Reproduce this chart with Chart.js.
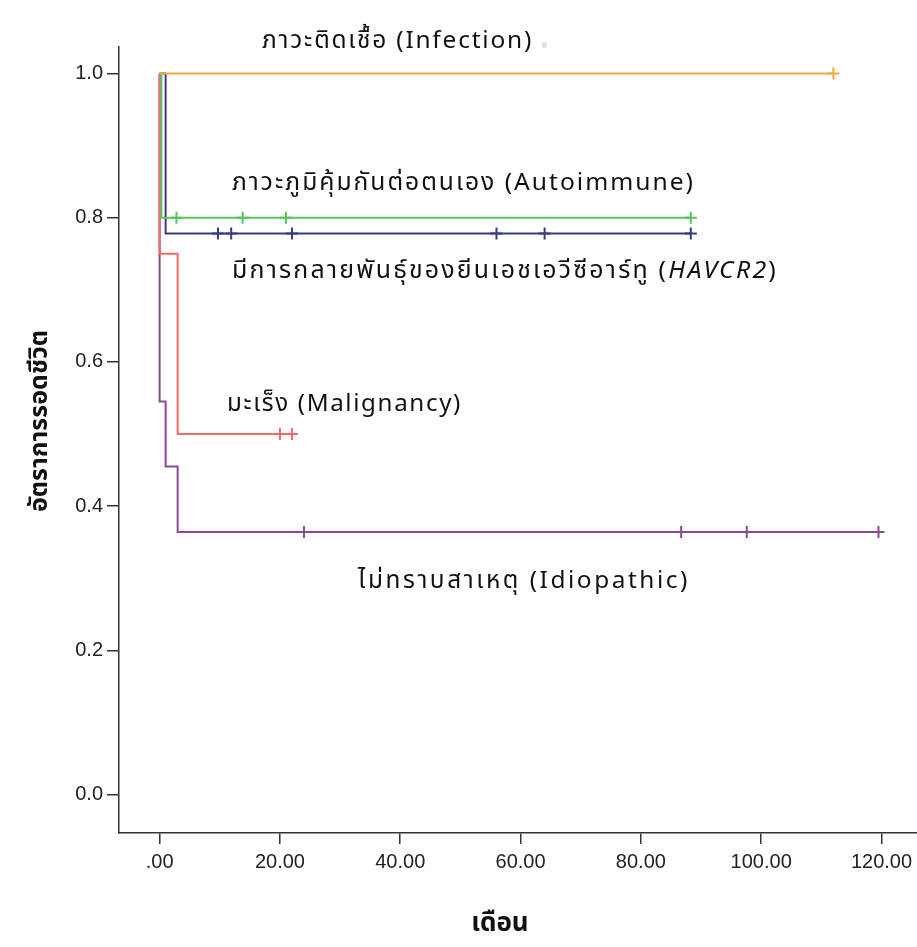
<!DOCTYPE html>
<html>
<head>
<meta charset="utf-8">
<script src="https://cdn.jsdelivr.net/npm/chart.js@4.4.1/dist/chart.umd.min.js"></script>
<style>
  body { margin: 0; background: #fff; }
  #wrap { width: 917px; height: 947px; }
</style>
</head>
<body>
<div id="wrap"><canvas id="km" width="917" height="947"></canvas></div>
<script>
"use strict";

// months / survival values
const infTimes = [0, 112];
const infSurv = [1, 1];
const infCensor = [112];

const autoTimes = [0, 0.3, 88.3];
const autoSurv = [1, 0.8, 0.8];
const autoCensor = [2.8, 13.8, 21, 88.3];

const havTimes = [0, 1, 88.3];
const havSurv = [1, 0.778, 0.778];
const havCensor = [9.7, 11.9, 22, 56, 64, 88.3];

const malTimes = [0, 0, 3, 22];
const malSurv = [1, 0.75, 0.5, 0.5];
const malCensor = [20, 22];

const idioTimes = [0, 0, 1, 3, 120];
const idioSurv = [1, 0.545, 0.455, 0.364, 0.364];
const idioCensor = [24, 86.7, 97.6, 119.5];

const xTicks = [0, 20, 40, 60, 80, 100, 120];
const yTicks = [0, 0.2, 0.4, 0.6, 0.8, 1.0];

const labelFont = '"Noto Sans", "Noto Sans Thai", sans-serif';
const titleFont = '"Noto Sans Thai", "Noto Sans", sans-serif';

function survAt(times, surv, t){
    let s = surv[0];
    for (let i = 0; i < times.length; i++){
        if (times[i] <= t) s = surv[i];
    }
    return s;
}

function stepSet(times, surv, color){
    return {
        type: 'line',
        data: times.map((t, i) => ({x: t, y: surv[i]})),
        borderColor: color,
        borderWidth: 2,
        stepped: true,
        pointRadius: 0,
        fill: false
    };
}

function censorSet(censor, times, surv, color){
    return {
        type: 'scatter',
        data: censor.map(t => ({x: t, y: survAt(times, surv, t)})),
        borderColor: color,
        backgroundColor: color,
        pointStyle: 'cross',
        pointRadius: 6,
        borderWidth: 2,
        showLine: false
    };
}

const cOrange = 'rgb(246,168,62)';
const cGreen = 'rgb(84,198,92)';
const cNavy = 'rgb(55,58,135)';
const cRed = 'rgb(242,105,105)';
const cPurple = 'rgb(140,72,150)';

// text pieces: [text, italic]
const labels = [
    {parts: [['ภาวะติดเชื้อ (Infection)', false]], x: 262, y: 48, w: 271},
    {parts: [['ภาวะภูมิคุ้มกันต่อตนเอง (Autoimmune)', false]], x: 232, y: 190, w: 463},
    {parts: [['มีการกลายพันธุ์ของยีนเอชเอวีซีอาร์ทู (', false], ['HAVCR2', true], [')', false]], x: 232, y: 278, w: 546},
    {parts: [['มะเร็ง (Malignancy)', false]], x: 227, y: 411, w: 235},
    {parts: [['ไม่ทราบสาเหตุ (Idiopathic)', false]], x: 358, y: 588, w: 332}
];

function fontFor(italic){
    return (italic ? 'italic ' : '') + '24px ' + labelFont;
}

function partsWidth(ctx, parts){
    let w = 0;
    parts.forEach(p => { ctx.font = fontFor(p[1]); w += ctx.measureText(p[0]).width; });
    return w;
}

const textPlugin = {
    id: 'kmText',
    afterDraw(chart){
        const ctx = chart.ctx;
        ctx.save();
        ctx.fillStyle = '#111';
        ctx.textBaseline = 'alphabetic';
        ctx.textAlign = 'left';
        labels.forEach(l => {
            ctx.letterSpacing = '0px';
            const natural = partsWidth(ctx, l.parts);
            const count = l.parts.reduce((n, p) => n + Array.from(p[0]).length, 0);
            ctx.letterSpacing = Math.max(0, (l.w - natural) / count).toFixed(2) + 'px';
            const spaced = partsWidth(ctx, l.parts);
            const sx = l.w / spaced;
            ctx.save();
            ctx.translate(l.x, l.y);
            ctx.scale(sx, 1);
            let x = 0;
            l.parts.forEach(p => {
                ctx.font = fontFor(p[1]);
                ctx.fillText(p[0], x, 0);
                x += ctx.measureText(p[0]).width;
            });
            ctx.restore();
        });
        ctx.letterSpacing = '0px';

        // small grey mark after the infection label
        ctx.fillStyle = '#e2e2e2';
        ctx.fillRect(542, 42, 5, 6);

        // axis titles
        ctx.fillStyle = '#111';
        ctx.textBaseline = 'middle';
        ctx.textAlign = 'center';
        ctx.font = 'bold 26px ' + titleFont;
        ctx.fillText('เดือน', 500, 926);
        ctx.font = 'bold 25px ' + titleFont;
        ctx.translate(42, 421);
        ctx.rotate(-Math.PI / 2);
        ctx.fillText('อัตราการรอดชีวิต', 0, 0);
        ctx.restore();
    }
};

new Chart(document.getElementById('km'), {
    data: {
        datasets: [
            stepSet(infTimes, infSurv, cOrange),
            censorSet(infCensor, infTimes, infSurv, cOrange),
            stepSet(autoTimes, autoSurv, cGreen),
            censorSet(autoCensor, autoTimes, autoSurv, cGreen),
            stepSet(malTimes, malSurv, cRed),
            censorSet(malCensor, malTimes, malSurv, cRed),
            stepSet(idioTimes, idioSurv, cPurple),
            censorSet(idioCensor, idioTimes, idioSurv, cPurple),
            stepSet(havTimes, havSurv, cNavy),
            censorSet(havCensor, havTimes, havSurv, cNavy)
        ]
    },
    options: {
        responsive: false,
        animation: false,
        layout: { autoPadding: false, padding: { top: 47, left: 0, right: 0, bottom: 0 } },
        plugins: {
            legend: { display: false },
            tooltip: { enabled: false }
        },
        scales: {
            x: {
                type: 'linear',
                min: -6.75,
                max: 125.9,
                afterBuildTicks: s => { s.ticks = xTicks.map(v => ({value: v})); },
                afterFit: s => { s.height = 114; s.paddingLeft = 0; s.paddingRight = 0; },
                border: { color: '#333', width: 1.5 },
                grid: { drawOnChartArea: false, drawTicks: true, tickLength: 11, color: '#333', lineWidth: 1.5 },
                ticks: {
                    padding: 6,
                    color: '#222',
                    font: { family: '"Liberation Sans", Arial, sans-serif', size: 20 },
                    callback: v => v === 0 ? '.00' : v.toFixed(2)
                }
            },
            y: {
                type: 'linear',
                min: -0.0534,
                max: 1.0368,
                afterBuildTicks: s => { s.ticks = yTicks.map(v => ({value: v})); },
                afterFit: s => { s.width = 119; s.paddingTop = 0; s.paddingBottom = 0; },
                border: { color: '#333', width: 1.5 },
                grid: { drawOnChartArea: false, drawTicks: true, tickLength: 12, color: '#333', lineWidth: 1.5 },
                ticks: {
                    padding: 4,
                    color: '#222',
                    font: { family: '"Liberation Sans", Arial, sans-serif', size: 20 },
                    callback: v => v.toFixed(1)
                }
            }
        }
    },
    plugins: [textPlugin]
});
</script>
</body>
</html>
